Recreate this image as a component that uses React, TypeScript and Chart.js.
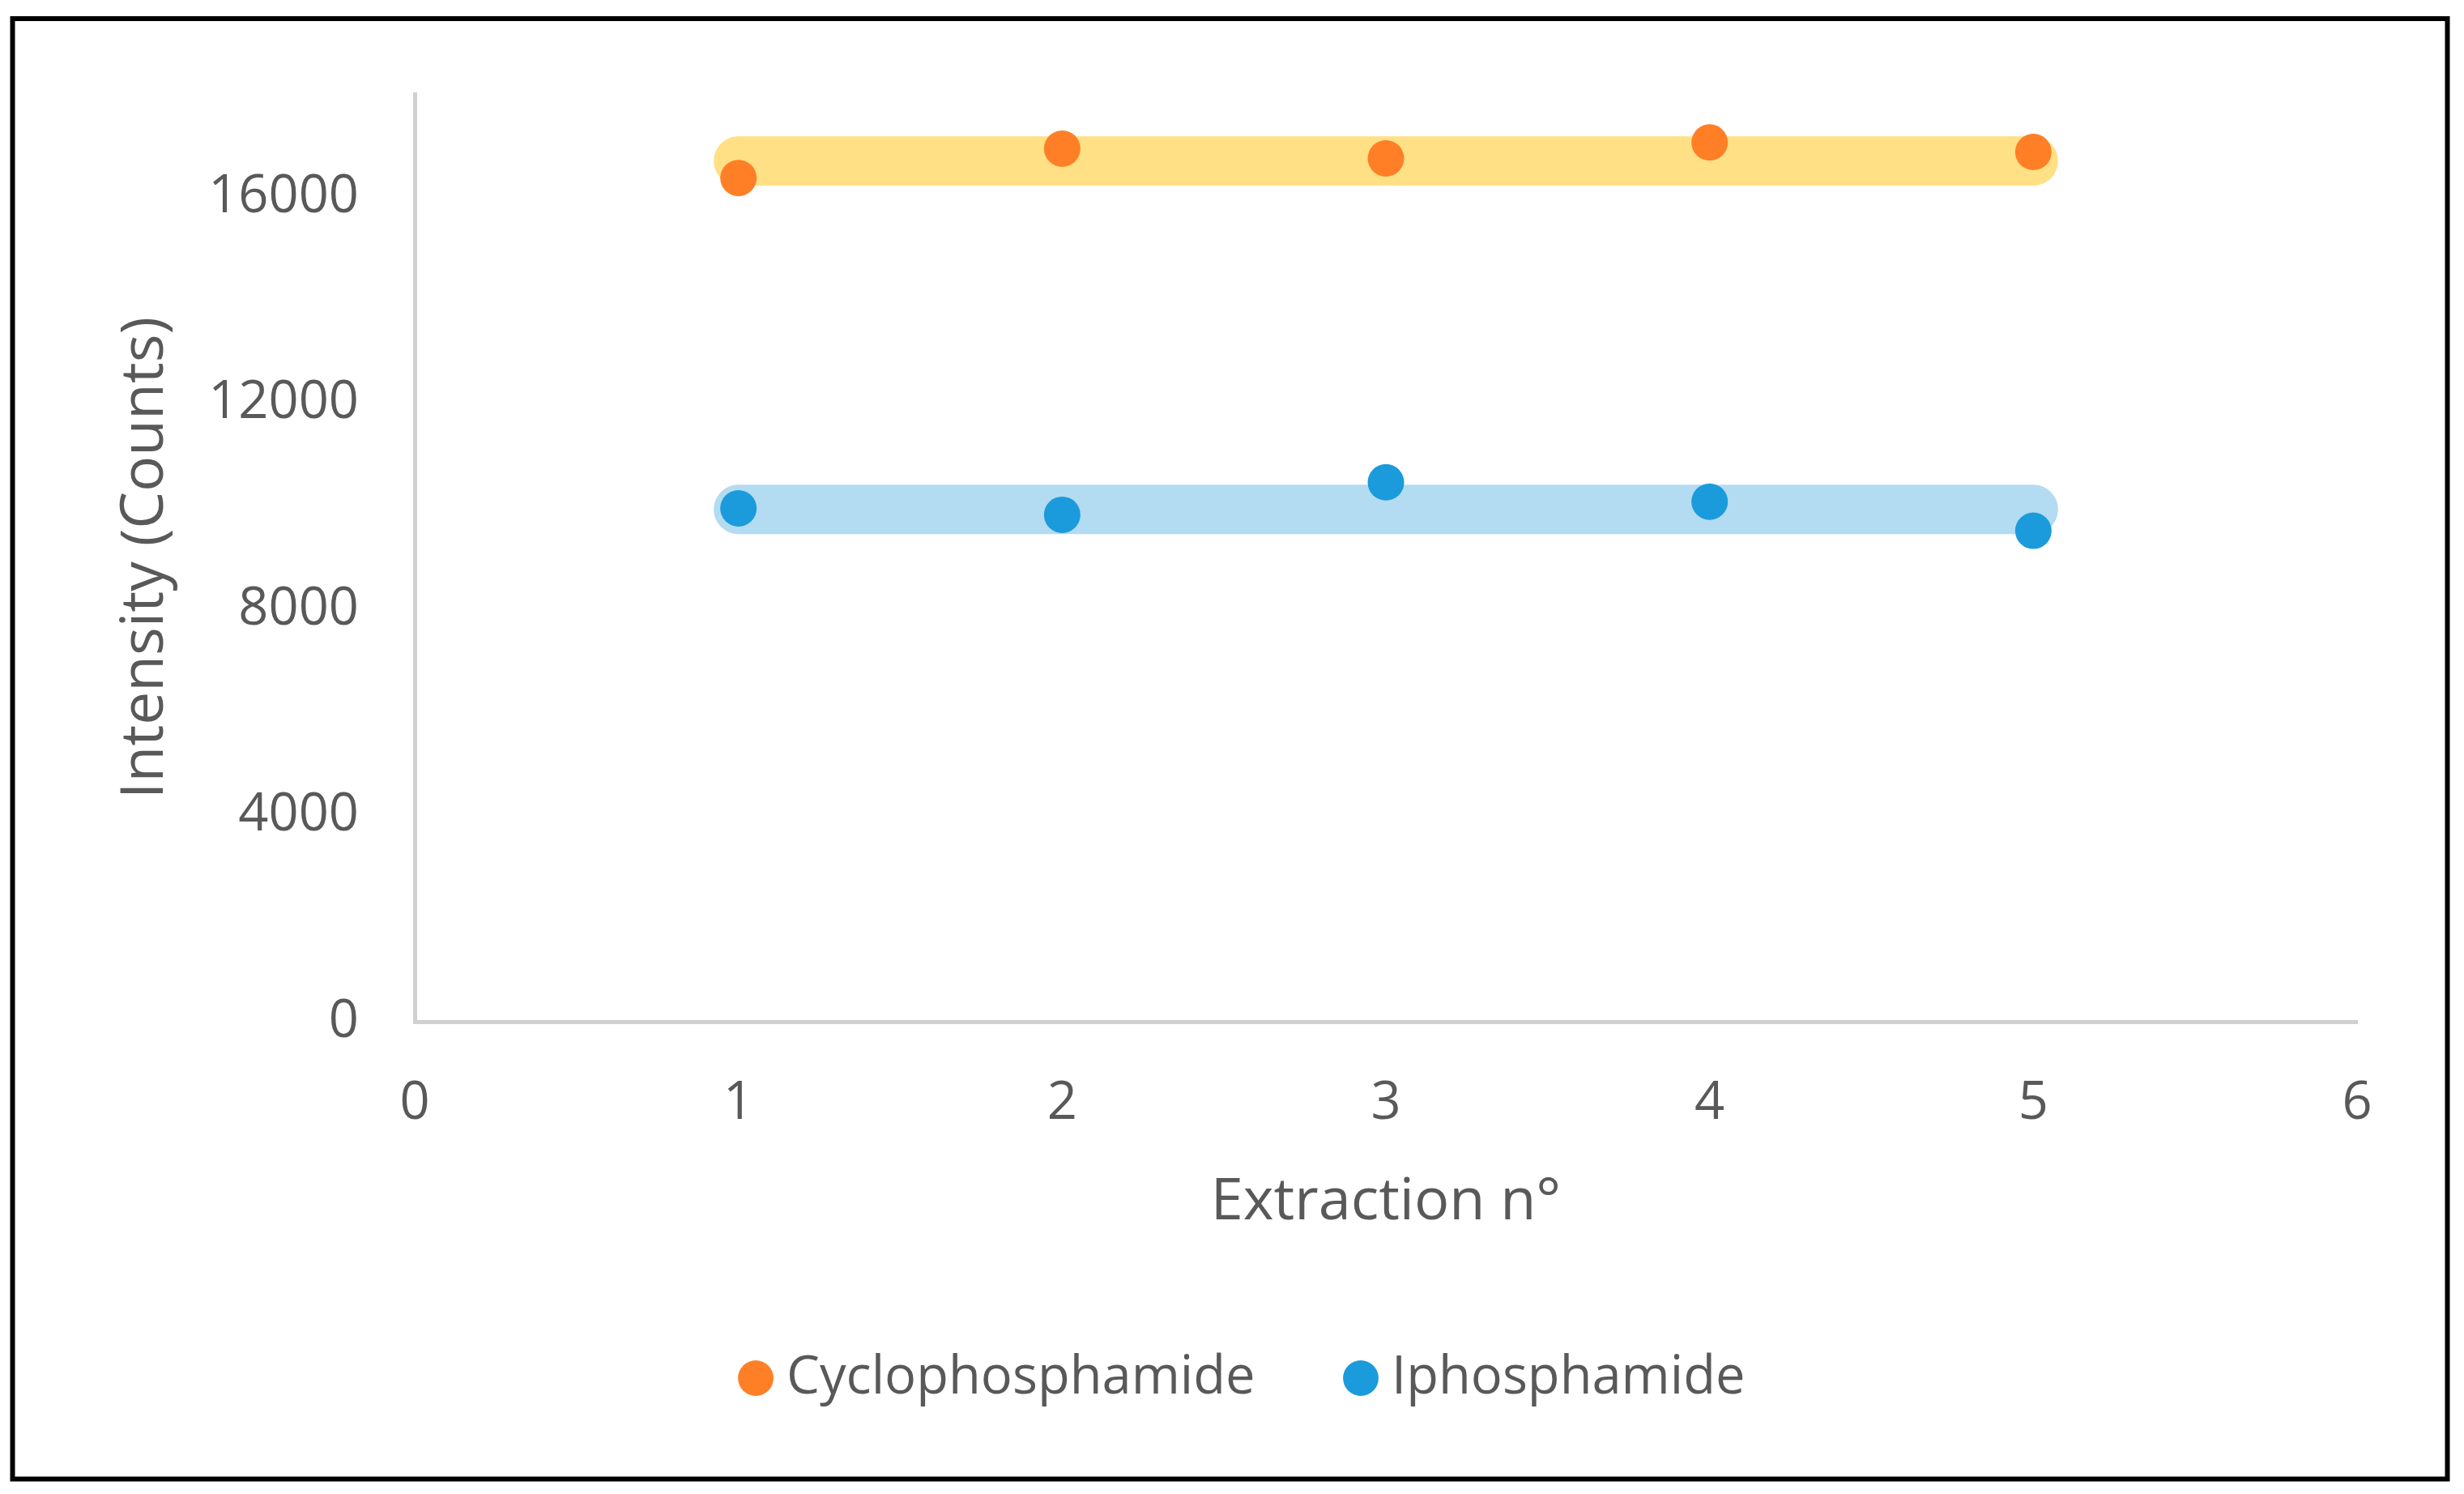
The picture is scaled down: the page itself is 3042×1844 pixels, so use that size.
import React, { useEffect, useRef } from "react";
import { Chart, registerables } from "chart.js";

Chart.register(...registerables);

const extractions = [1, 2, 3, 4, 5];
const cyclophosphamide = [16370, 16940, 16750, 17060, 16875];
const iphosphamide = [9960, 9835, 10465, 10090, 9525];
const bandX = [1, 5];
const cycloBand = [16700, 16700];
const iphosBand = [9940, 9940];
const yTickValues = [0, 4000, 8000, 12000, 16000];
const xTickValues = [0, 1, 2, 3, 4, 5, 6];
const seriesNames = ["Cyclophosphamide", "Iphosphamide"];
const xTitle = "Extraction n°";
const yTitle = "Intensity (Counts)";

const FONT = "'Open Sans', 'Noto Sans', sans-serif";
const TEXT = "#595959";

const frame = {
  id: "frame",
  beforeDraw(chart: any) {
    const { ctx, width, height } = chart;
    ctx.save();
    ctx.fillStyle = "#ffffff";
    ctx.fillRect(0, 0, width, height);
    ctx.restore();
  },
  afterDraw(chart: any) {
    const { ctx } = chart;
    ctx.save();
    ctx.strokeStyle = "#000000";
    ctx.lineWidth = 6;
    ctx.strokeRect(15.5, 23, 3006, 1802.5);
    ctx.restore();
  },
};

export default function App() {
  const ref = useRef<HTMLCanvasElement | null>(null);

  useEffect(() => {
    document.body.style.margin = "0";
    const canvas = ref.current;
    if (!canvas) return;
    const toPts = (xs: number[], ys: number[]) => xs.map((x, i) => ({ x, y: ys[i] }));
    const chart = new Chart(canvas, {
      type: "scatter",
      data: {
        datasets: [
          {
            label: seriesNames[0],
            data: toPts(extractions, cyclophosphamide),
            backgroundColor: "#FF7F27",
            borderColor: "#FF7F27",
            pointRadius: 22.5,
            pointBorderWidth: 0,
            pointStyle: "circle",
          },
          {
            label: seriesNames[1],
            data: toPts(extractions, iphosphamide),
            backgroundColor: "#1B9BDC",
            borderColor: "#1B9BDC",
            pointRadius: 22.5,
            pointBorderWidth: 0,
            pointStyle: "circle",
          },
          {
            label: "band1",
            data: toPts(bandX, cycloBand),
            showLine: true,
            borderColor: "#FFE085",
            borderWidth: 61,
            borderCapStyle: "round",
            pointRadius: 0,
          } as any,
          {
            label: "band2",
            data: toPts(bandX, iphosBand),
            showLine: true,
            borderColor: "#B3DBF1",
            borderWidth: 61,
            borderCapStyle: "round",
            pointRadius: 0,
          } as any,
        ],
      },
      options: {
        responsive: false,
        animation: false,
        events: [],
        layout: { padding: { left: 172, right: 132, top: 116, bottom: 100.5 } },
        plugins: {
          tooltip: { enabled: false },
          legend: {
            position: "bottom",
            labels: {
              filter: (item: any) => item.datasetIndex < 2,
              usePointStyle: true,
              pointStyle: "circle",
              boxWidth: 11,
              boxHeight: 31,
              padding: 125,
              color: TEXT,
              font: { family: FONT, size: 65 },
            },
          },
        },
        scales: {
          x: {
            type: "linear",
            min: 0,
            max: 6,
            grid: { display: false, drawTicks: false },
            border: { display: true, color: "#d0d0d0", width: 5 },
            afterBuildTicks: (scale: any) => {
              scale.ticks = xTickValues.map((v) => ({ value: v }));
            },
            ticks: {
              padding: 62,
              color: TEXT,
              font: { family: FONT, size: 65 },
              callback: (v: any) => String(v),
            },
            title: {
              display: true,
              text: xTitle,
              color: TEXT,
              font: { family: FONT, size: 72 },
              padding: { top: 0, bottom: 16 },
            },
            afterFit: (scale: any) => {
              scale.height = 282.5;
            },
          },
          y: {
            type: "linear",
            min: 0,
            max: 18000,
            grid: { display: false, drawTicks: false },
            border: { display: true, color: "#d0d0d0", width: 5 },
            afterBuildTicks: (scale: any) => {
              scale.ticks = yTickValues.map((v) => ({ value: v }));
            },
            ticks: {
              padding: 69,
              color: TEXT,
              font: { family: FONT, size: 65 },
              callback: (v: any) => String(v),
            },
            title: {
              display: true,
              text: yTitle,
              color: TEXT,
              font: { family: FONT, size: 73, lineHeight: 0.22 },
              padding: { top: 0, bottom: 0 },
            },
            afterFit: (scale: any) => {
              scale.width = 340;
            },
          },
        },
      },
      plugins: [frame],
    } as any);
    return () => chart.destroy();
  }, []);

  return (
    <div style={{ position: "fixed", left: 0, top: 0, width: 3042, height: 1844 }}>
      <canvas ref={ref} width={3042} height={1844} />
    </div>
  );
}
